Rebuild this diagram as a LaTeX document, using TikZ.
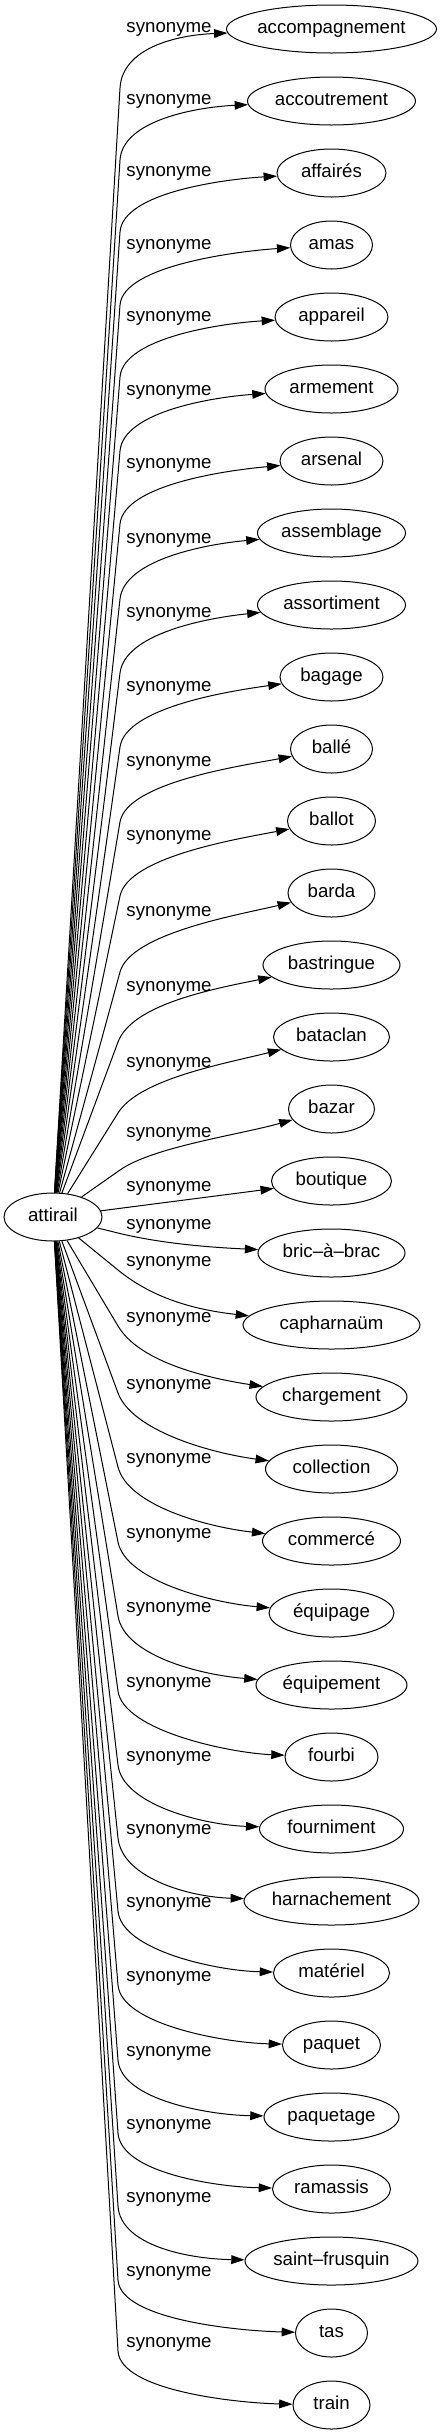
\documentclass[tikz,border=0pt]{standalone}
\usepackage{fontspec}
\setmainfont{Liberation Sans}
\usetikzlibrary{shapes.geometric,arrows.meta,calc}

\begin{document}
\begin{tikzpicture}[x=0.75pt,y=-0.75pt,font=\fontsize{14pt}{16pt}\selectfont,
  word/.style={ellipse,draw,line width=.75pt,inner sep=0pt,minimum height=36pt,text height=10pt,text depth=2.7pt},
  lab/.style={inner sep=0pt,text height=10pt,text depth=2.7pt},
  syn/.style={line width=.75pt,-{Triangle[length=10pt,width=6.5pt]}}]
\useasboundingbox (0,0) rectangle (442,2435);
\node[word,minimum width=73.5pt] (attirail) at (53,1217) {attirail};
\node[word,minimum width=157.5pt] (accompagnement) at (331.5,29) {accompagnement};
\node[word,minimum width=126pt] (accoutrement) at (331.5,101) {accoutrement};
\node[word,minimum width=81.75pt] (affaires) at (331.5,173) {affairés};
\node[word,minimum width=61.5pt] (amas) at (331.5,245) {amas};
\node[word,minimum width=84.75pt] (appareil) at (331.5,317) {appareil};
\node[word,minimum width=99.75pt] (armement) at (331.5,389) {armement};
\node[word,minimum width=77.25pt] (arsenal) at (331.5,461) {arsenal};
\node[word,minimum width=111pt] (assemblage) at (331.5,533) {assemblage};
\node[word,minimum width=111pt] (assortiment) at (331.5,605) {assortiment};
\node[word,minimum width=77.25pt] (bagage) at (331.5,677) {bagage};
\node[word,minimum width=61.5pt] (balle) at (331.5,749) {ballé};
\node[word,minimum width=66pt] (ballot) at (331.5,821) {ballot};
\node[word,minimum width=65.25pt] (barda) at (331.5,893) {barda};
\node[word,minimum width=102.75pt] (bastringue) at (331.5,965) {bastringue};
\node[word,minimum width=87pt] (bataclan) at (331.5,1037) {bataclan};
\node[word,minimum width=64.5pt] (bazar) at (331.5,1109) {bazar};
\node[word,minimum width=90pt] (boutique) at (331.5,1181) {boutique};
\node[word,minimum width=110.25pt] (bricabrac) at (331.5,1253) {bric–à–brac};
\node[word,minimum width=132.75pt] (capharnaum) at (331.5,1325) {capharnaüm};
\node[word,minimum width=113.25pt] (chargement) at (331.5,1397) {chargement};
\node[word,minimum width=99pt] (collection) at (331.5,1469) {collection};
\node[word,minimum width=103.5pt] (commerce) at (331.5,1541) {commercé};
\node[word,minimum width=93.75pt] (equipage) at (331.5,1613) {équipage};
\node[word,minimum width=113.25pt] (equipement) at (331.5,1685) {équipement};
\node[word,minimum width=69.75pt] (fourbi) at (331.5,1757) {fourbi};
\node[word,minimum width=108pt] (fourniment) at (331.5,1829) {fourniment};
\node[word,minimum width=131.25pt] (harnachement) at (331.5,1901) {harnachement};
\node[word,minimum width=87pt] (materiel) at (331.5,1973) {matériel};
\node[word,minimum width=73.5pt] (paquet) at (331.5,2045) {paquet};
\node[word,minimum width=101.25pt] (paquetage) at (331.5,2117) {paquetage};
\node[word,minimum width=88.5pt] (ramassis) at (331.5,2189) {ramassis};
\node[word,minimum width=129.75pt] (saintfrusquin) at (331.5,2261) {saint–frusquin};
\node[word,minimum width=54pt] (tas) at (331.5,2333) {tas};
\node[word,minimum width=57.75pt] (train) at (331.5,2405) {train};
% edge labels
\node[lab] (s0) at (169,28) {synonyme};
\node[lab] (s1) at (169,100) {synonyme};
\node[lab] (s2) at (169,172) {synonyme};
\node[lab] (s3) at (169,245) {synonyme};
\node[lab] (s4) at (169,317) {synonyme};
\node[lab] (s5) at (169,391) {synonyme};
\node[lab] (s6) at (169,464) {synonyme};
\node[lab] (s7) at (169,539) {synonyme};
\node[lab] (s8) at (169,613) {synonyme};
\node[lab] (s9) at (169,687) {synonyme};
\node[lab] (s10) at (169,762) {synonyme};
\node[lab] (s11) at (169,836) {synonyme};
\node[lab] (s12) at (169,912) {synonyme};
\node[lab] (s13) at (169,987) {synonyme};
\node[lab] (s14) at (169,1063) {synonyme};
\node[lab] (s15) at (169,1133) {synonyme};
\node[lab] (s16) at (169,1187) {synonyme};
\node[lab] (s17) at (169,1225) {synonyme};
\node[lab] (s18) at (169,1262) {synonyme};
\node[lab] (s19) at (169,1318) {synonyme};
\node[lab] (s20) at (169,1385) {synonyme};
\node[lab] (s21) at (169,1459) {synonyme};
\node[lab] (s22) at (169,1534) {synonyme};
\node[lab] (s23) at (169,1608) {synonyme};
\node[lab] (s24) at (169,1683) {synonyme};
\node[lab] (s25) at (169,1757) {synonyme};
\node[lab] (s26) at (169,1830) {synonyme};
\node[lab] (s27) at (169,1903) {synonyme};
\node[lab] (s28) at (169,1977) {synonyme};
\node[lab] (s29) at (169,2052) {synonyme};
\node[lab] (s30) at (169,2125) {synonyme};
\node[lab] (s31) at (169,2198) {synonyme};
\node[lab] (s32) at (169,2272) {synonyme};
\node[lab] (s33) at (169,2343) {synonyme};
% edges going up
\draw[syn] (attirail) -- (120,88) .. controls ($(120,88)!-30pt!(attirail)$) and ($(accompagnement.west)+(-50,6)$) .. (accompagnement);
\draw[syn] (attirail) -- (120,160) .. controls ($(120,160)!-30pt!(attirail)$) and ($(accoutrement.west)+(-50,6)$) .. (accoutrement);
\draw[syn] (attirail) -- (120,232) .. controls ($(120,232)!-30pt!(attirail)$) and ($(affaires.west)+(-50,6)$) .. (affaires);
\draw[syn] (attirail) -- (120,305) .. controls ($(120,305)!-30pt!(attirail)$) and ($(amas.west)+(-50,6)$) .. (amas);
\draw[syn] (attirail) -- (120,377) .. controls ($(120,377)!-30pt!(attirail)$) and ($(appareil.west)+(-50,6)$) .. (appareil);
\draw[syn] (attirail) -- (120,451) .. controls ($(120,451)!-30pt!(attirail)$) and ($(armement.west)+(-50,8)$) .. (armement);
\draw[syn] (attirail) -- (120,524) .. controls ($(120,524)!-30pt!(attirail)$) and ($(arsenal.west)+(-50,9)$) .. (arsenal);
\draw[syn] (attirail) -- (120,599) .. controls ($(120,599)!-30pt!(attirail)$) and ($(assemblage.west)+(-50,11)$) .. (assemblage);
\draw[syn] (attirail) -- (120,673) .. controls ($(120,673)!-30pt!(attirail)$) and ($(assortiment.west)+(-50,13)$) .. (assortiment);
\draw[syn] (attirail) -- (120,747) .. controls ($(120,747)!-30pt!(attirail)$) and ($(bagage.west)+(-50,14)$) .. (bagage);
\draw[syn] (attirail) -- (120,822) .. controls ($(120,822)!-30pt!(attirail)$) and ($(balle.west)+(-50,17)$) .. (balle);
\draw[syn] (attirail) -- (120,896) .. controls ($(120,896)!-30pt!(attirail)$) and ($(ballot.west)+(-50,18)$) .. (ballot);
\draw[syn] (attirail) -- (120,972) .. controls ($(120,972)!-30pt!(attirail)$) and ($(barda.west)+(-50,22)$) .. (barda);
\draw[syn] (attirail) -- (118,1042) .. controls ($(118,1042)!-30pt!(attirail)$) and ($(bastringue.west)+(-50,24)$) .. (bastringue);
\draw[syn] (attirail) -- (118,1113) .. controls ($(118,1113)!-30pt!(attirail)$) and ($(bataclan.west)+(-50,27)$) .. (bataclan);
\draw[syn] (attirail) -- (120,1170) .. controls ($(120,1170)!-30pt!(attirail)$) and ($(bazar.west)+(-50,26)$) .. (bazar);
\draw[syn] (attirail) -- (boutique);
% edges going down
\draw[syn] (attirail) -- (118,1233) .. controls ($(118,1233)!-30pt!(attirail)$) and ($(bricabrac.west)+(-55,-6)$) .. (bricabrac);
\draw[syn] (attirail) -- (118,1270) .. controls ($(118,1270)!-30pt!(attirail)$) and ($(capharnaum.west)+(-55,-16)$) .. (capharnaum);
\draw[syn] (attirail) -- (118,1326) .. controls ($(118,1326)!-30pt!(attirail)$) and ($(chargement.west)+(-55,-20)$) .. (chargement);
\draw[syn] (attirail) -- (118,1393) .. controls ($(118,1393)!-30pt!(attirail)$) and ($(collection.west)+(-55,-16)$) .. (collection);
\draw[syn] (attirail) -- (118,1467) .. controls ($(118,1467)!-30pt!(attirail)$) and ($(commerce.west)+(-55,-14)$) .. (commerce);
\draw[syn] (attirail) -- (118,1542) .. controls ($(118,1542)!-30pt!(attirail)$) and ($(equipage.west)+(-55,-10)$) .. (equipage);
\draw[syn] (attirail) -- (118,1616) .. controls ($(118,1616)!-30pt!(attirail)$) and ($(equipement.west)+(-55,-10)$) .. (equipement);
\draw[syn] (attirail) -- (118,1691) .. controls ($(118,1691)!-30pt!(attirail)$) and ($(fourbi.west)+(-55,-4)$) .. (fourbi);
\draw[syn] (attirail) -- (118,1765) .. controls ($(118,1765)!-30pt!(attirail)$) and ($(fourniment.west)+(-55,-4)$) .. (fourniment);
\draw[syn] (attirail) -- (118,1838) .. controls ($(118,1838)!-30pt!(attirail)$) and ($(harnachement.west)+(-55,-4)$) .. (harnachement);
\draw[syn] (attirail) -- (118,1911) .. controls ($(118,1911)!-30pt!(attirail)$) and ($(materiel.west)+(-55,-2)$) .. (materiel);
\draw[syn] (attirail) -- (118,1985) .. controls ($(118,1985)!-30pt!(attirail)$) and ($(paquet.west)+(-55,-2)$) .. (paquet);
\draw[syn] (attirail) -- (118,2060) .. controls ($(118,2060)!-30pt!(attirail)$) and ($(paquetage.west)+(-55,-2)$) .. (paquetage);
\draw[syn] (attirail) -- (118,2133) .. controls ($(118,2133)!-30pt!(attirail)$) and ($(ramassis.west)+(-55,-2)$) .. (ramassis);
\draw[syn] (attirail) -- (118,2206) .. controls ($(118,2206)!-30pt!(attirail)$) and ($(saintfrusquin.west)+(-55,-2)$) .. (saintfrusquin);
\draw[syn] (attirail) -- (118,2280) .. controls ($(118,2280)!-30pt!(attirail)$) and ($(tas.west)+(-55,-2)$) .. (tas);
\draw[syn] (attirail) -- (118,2351) .. controls ($(118,2351)!-30pt!(attirail)$) and ($(train.west)+(-55,-2)$) .. (train);
\end{tikzpicture}
\end{document}
